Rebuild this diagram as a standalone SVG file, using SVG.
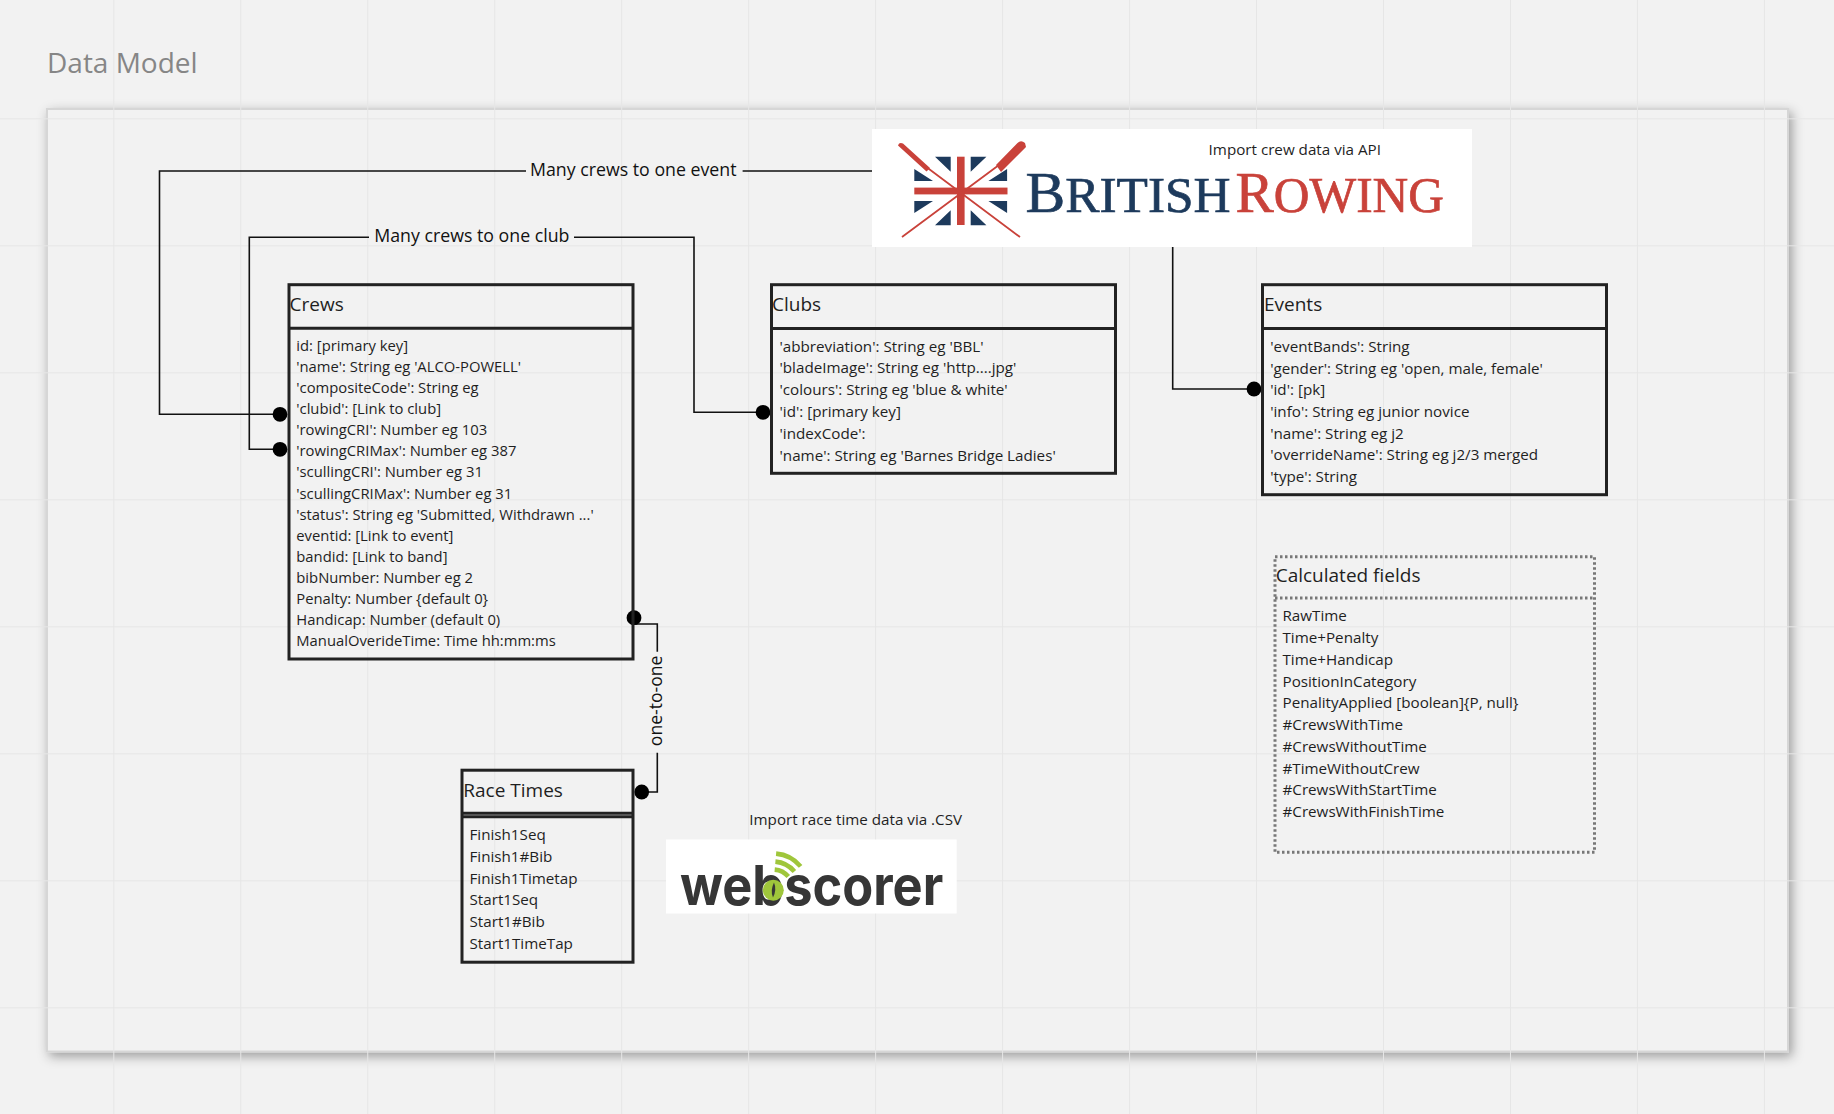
<svg xmlns="http://www.w3.org/2000/svg" width="1834" height="1114" viewBox="0 0 1834 1114">
<defs>
<filter id="sh" x="-5%" y="-5%" width="110%" height="110%"><feDropShadow dx="3" dy="4" stdDeviation="6" flood-color="#000" flood-opacity="0.36"/></filter>
<pattern id="grid" width="126.97" height="127" patternUnits="userSpaceOnUse" x="113.3" y="118.3"><path d="M0 0V127M0 0H127" fill="none" stroke="#e6e6e6" stroke-width="2"/></pattern>
<g id="q"><path d="M935 156.7H950.7V171.7ZM914.3 169V181H933Z"/></g>
</defs>
<style>
text{font-family:"Open Sans","Noto Sans","DejaVu Sans",sans-serif;fill:#1f1f1f}
.b{fill:none;stroke:#222;stroke-width:3}
.d{fill:none;stroke:#777;stroke-width:3;stroke-dasharray:2.5 2.5}
.t{font-size:19px}
.f{font-size:15.2px}
.f2{font-size:14.8px}
.l{font-size:17.75px;fill:#111}
.i{font-size:15.2px}
.c{fill:none;stroke:#111;stroke-width:1.6}
.p{fill:#000}
.red{fill:#c9423a}
.rl{stroke:#c9423a;stroke-width:1.8;fill:none}
</style>
<rect width="1834" height="1114" fill="#f2f2f2"/>
<rect id="frame" x="47" y="109" width="1741" height="942.5" fill="#f2f2f2" stroke="#d6d6d6" stroke-width="2" filter="url(#sh)"/>
<rect width="1834" height="1114" fill="url(#grid)"/>
<g id="title"><text x="47" y="73" style="font-size:28px;fill:#868686">Data Model</text></g>

<g id="britishrowing">
<rect x="872" y="129" width="600" height="118" fill="#fff"/>
<g fill="#1d3a5c">
<use href="#q"/>
<use href="#q" transform="matrix(-1 0 0 1 1921.4 0)"/>
<use href="#q" transform="matrix(1 0 0 -1 0 382)"/>
<use href="#q" transform="matrix(-1 0 0 -1 1921.4 382)"/>
</g>
<rect x="957" y="156.7" width="7.6" height="68.3" class="red"/>
<rect x="914.3" y="187.6" width="93.2" height="6.8" class="red"/>
<path class="rl" d="M925 166L1020 237M1003 162L902 237"/>
<path class="red" d="M898 145.5Q899 142 903 143.5L930 168L926.5 171.5ZM1025 143Q1021 139.5 1017.5 143L996 165L1001 172L1026 147Z"/>
<text x="1025.6" y="211.7" textLength="205" lengthAdjust="spacingAndGlyphs" style="font-family:'Liberation Serif',serif;font-size:50px;fill:#1d3a5c;stroke:#1d3a5c;stroke-width:.7"><tspan style="font-size:58px">B</tspan>RITISH</text>
<text x="1235.6" y="211.7" textLength="208.4" lengthAdjust="spacingAndGlyphs" style="font-family:'Liberation Serif',serif;font-size:50px;fill:#c9423a;stroke:#c9423a;stroke-width:.7"><tspan style="font-size:58px">R</tspan>OWING</text>
<text class="i" x="1208.6" y="155">Import crew data via API</text>
</g>

<g id="webscorer">
<text class="i" x="749.3" y="825">Import race time data via .CSV</text>
<rect x="666" y="839.5" width="290.7" height="74" fill="#fff"/>
<text x="680" y="904.5" textLength="263.3" lengthAdjust="spacingAndGlyphs" style="font-family:Inter,'Liberation Sans',sans-serif;font-weight:700;font-size:55px;fill:#363636">webscorer</text>
<circle cx="773.3" cy="890.2" r="10.5" fill="#9fc63b"/>
<path d="M774 882.5Q770 890.5 773 897.5Q777 889.5 774 882.5Z" fill="#363636"/>
<path d="M776.1 853.6A36 36 0 0 1 800.6 866.4M775.4 861.6A28 28 0 0 1 794.4 871.5M774.7 869.6A20 20 0 0 1 788.3 876.6" fill="none" stroke="#9fc63b" stroke-width="4.6"/>
</g>

<g id="connectors">
<path class="c" d="M872 171H742.6M526 171H159.5V414.3H280"/>
<circle class="p" cx="280" cy="414.3" r="7.4"/>
<text class="l" x="530" y="176">Many crews to one event</text>
<path class="c" d="M763 412.3H694V237.3H574M369 237.3H249.3V449.3H280"/>
<circle class="p" cx="280" cy="449.3" r="7.4"/>
<circle class="p" cx="763" cy="412.3" r="7.4"/>
<text class="l" x="374.2" y="242">Many crews to one club</text>
<path class="c" d="M1172.7 247V389H1254"/>
<circle class="p" cx="1254" cy="389" r="7.4"/>
<path class="c" d="M634 624H657.3V651.7M657.3 752.7V792H641.7"/>
<circle class="p" cx="634" cy="617.7" r="7.4"/>
<circle class="p" cx="641.7" cy="792" r="7.4"/>
<text class="l" transform="translate(661.7 746.2) rotate(-90)" style="font-size:17.6px">one-to-one</text>
</g>

<g id="crews">
<rect class="b" x="289" y="284.7" width="344" height="374.3"/>
<path class="b" d="M289 328.3H633"/>
<text class="t" x="289.6" y="310.5">Crews</text>
<g class="f2">
<text x="296.3" y="351">id: [primary key]</text>
<text x="296.3" y="372">'name': String eg 'ALCO-POWELL'</text>
<text x="296.3" y="393.2">'compositeCode': String eg</text>
<text x="296.3" y="414.2">'clubid': [Link to club]</text>
<text x="296.3" y="435.3">'rowingCRI': Number eg 103</text>
<text x="296.3" y="456.4">'rowingCRIMax': Number eg 387</text>
<text x="296.3" y="477.4">'scullingCRI': Number eg 31</text>
<text x="296.3" y="498.5">'scullingCRIMax': Number eg 31</text>
<text x="296.3" y="519.5">'status': String eg 'Submitted, Withdrawn ...'</text>
<text x="296.3" y="540.6">eventid: [Link to event]</text>
<text x="296.3" y="561.8">bandid: [Link to band]</text>
<text x="296.3" y="582.8">bibNumber: Number eg 2</text>
<text x="296.3" y="603.9">Penalty: Number {default 0}</text>
<text x="296.3" y="624.9">Handicap: Number (default 0)</text>
<text x="296.3" y="646">ManualOverideTime: Time hh:mm:ms</text>
</g>
</g>

<g id="clubs">
<rect class="b" x="771.5" y="284.7" width="344" height="188.6"/>
<path class="b" d="M771.5 328.5H1115.5"/>
<text class="t" x="772" y="310.5">Clubs</text>
<g class="f">
<text x="779.5" y="351.5">'abbreviation': String eg 'BBL'</text>
<text x="779.5" y="373.3">'bladeImage': String eg 'http....jpg'</text>
<text x="779.5" y="395.1">'colours': String eg 'blue &amp; white'</text>
<text x="779.5" y="416.9">'id': [primary key]</text>
<text x="779.5" y="438.7">'indexCode':</text>
<text x="779.5" y="460.5">'name': String eg 'Barnes Bridge Ladies'</text>
</g>
</g>

<g id="events">
<rect class="b" x="1262.5" y="284.7" width="344" height="210"/>
<path class="b" d="M1262.5 328.5H1606.5"/>
<text class="t" x="1264" y="310.5">Events</text>
<g class="f">
<text x="1270.2" y="351.8">'eventBands': String</text>
<text x="1270.2" y="373.5">'gender': String eg 'open, male, female'</text>
<text x="1270.2" y="395.2">'id': [pk]</text>
<text x="1270.2" y="416.9">'info': String eg junior novice</text>
<text x="1270.2" y="438.6">'name': String eg j2</text>
<text x="1270.2" y="460.3">'overrideName': String eg j2/3 merged</text>
<text x="1270.2" y="482">'type': String</text>
</g>
</g>

<g id="racetimes">
<rect class="b" x="462" y="770.2" width="171" height="192"/>
<path class="b" d="M462 813.2H633M462 816.8H633"/>
<text class="t" x="463.3" y="797">Race Times</text>
<g class="f">
<text x="469.5" y="840">Finish1Seq</text>
<text x="469.5" y="861.8">Finish1#Bib</text>
<text x="469.5" y="883.6">Finish1Timetap</text>
<text x="469.5" y="905.4">Start1Seq</text>
<text x="469.5" y="927.2">Start1#Bib</text>
<text x="469.5" y="949">Start1TimeTap</text>
</g>
</g>

<g id="calculated">
<rect class="d" x="1275" y="556.7" width="319.5" height="295.5"/>
<path class="d" d="M1275 598H1594.5"/>
<text class="t" x="1275.7" y="581.7">Calculated fields</text>
<g class="f">
<text x="1282.5" y="621.3">RawTime</text>
<text x="1282.5" y="643.1">Time+Penalty</text>
<text x="1282.5" y="664.9">Time+Handicap</text>
<text x="1282.5" y="686.6">PositionInCategory</text>
<text x="1282.5" y="708.4">PenalityApplied [boolean]{P, null}</text>
<text x="1282.5" y="730.2">#CrewsWithTime</text>
<text x="1282.5" y="752">#CrewsWithoutTime</text>
<text x="1282.5" y="773.7">#TimeWithoutCrew</text>
<text x="1282.5" y="795">#CrewsWithStartTime</text>
<text x="1282.5" y="817.3">#CrewsWithFinishTime</text>
</g>
</g>
</svg>
